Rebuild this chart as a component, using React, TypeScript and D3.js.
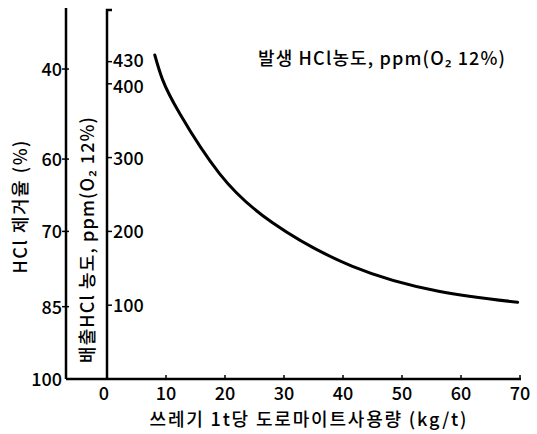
import React, { useEffect, useRef } from 'react';
import * as d3 from 'd3';

// 도로마이트 사용량 (kg/t) vs 배출 HCl 농도 (ppm)
const dolomiteUse = [8.1, 9.4, 12.3, 19.1, 28.0, 41.5, 56.2, 69.6];
const hclPpm = [439, 406, 360, 278, 212, 153, 119, 104];

const xTicks = [0, 10, 20, 30, 40, 50, 60, 70];
const ppmTicks = [100, 200, 300, 400, 430];
// 제거율 눈금과 그에 대응하는 ppm 위치
const removalTicks = [40, 60, 70, 85, 100];
const removalAtPpm = [420, 298, 200, 98, 0];

const FONT = '"Noto Sans CJK KR", "Noto Sans", sans-serif';

export default function App() {
    const ref = useRef<SVGSVGElement>(null);

    useEffect(() => {
        const svg = d3.select(ref.current);
        svg.selectAll('*').remove();

        const x = d3.scaleLinear().domain([0, 70]).range([107, 520]);
        const y = d3.scaleLinear().domain([0, 500]).range([379, 10]);
        const leftAxisX = 66;
        const bottomY = 379;

        const txt = (sel: any, size = 18) =>
            sel.attr('font-family', FONT).attr('font-size', size).attr('font-weight', 500);

        // 축선
        svg.append('line')
            .attr('x1', leftAxisX).attr('x2', leftAxisX)
            .attr('y1', 8).attr('y2', bottomY)
            .attr('stroke', '#000').attr('stroke-width', 2.5);
        svg.append('path')
            .attr('d', `M112,10 H${x(0)} V${bottomY}`)
            .attr('fill', 'none')
            .attr('stroke', '#000').attr('stroke-width', 2.5);
        svg.append('line')
            .attr('x1', leftAxisX).attr('x2', x(70) + 1)
            .attr('y1', bottomY).attr('y2', bottomY)
            .attr('stroke', '#000').attr('stroke-width', 2.5);

        // 아래 눈금
        svg.append('g').selectAll('line')
            .data(xTicks.filter((d) => d > 0))
            .join('line')
            .attr('x1', (d) => x(d)).attr('x2', (d) => x(d))
            .attr('y1', bottomY).attr('y2', bottomY - 4)
            .attr('stroke', '#000').attr('stroke-width', 1.5);
        txt(svg.append('g').selectAll('text')
            .data(xTicks)
            .join('text')
            .attr('x', (d) => x(d) - (d === 0 ? 3 : 0))
            .attr('y', 400)
            .attr('text-anchor', 'middle'))
            .text((d) => d);

        // ppm 눈금 (430 / 400 은 붙어 있어서 살짝 벌림)
        svg.append('g').selectAll('line')
            .data(ppmTicks)
            .join('line')
            .attr('x1', x(0)).attr('x2', x(0) + 5)
            .attr('y1', (d) => y(d)).attr('y2', (d) => y(d))
            .attr('stroke', '#000').attr('stroke-width', 1.5);
        txt(svg.append('g').selectAll('text')
            .data(ppmTicks)
            .join('text')
            .attr('x', x(0) + 6)
            .attr('y', (d) => y(d) + 7 + (d === 430 ? -2 : d === 400 ? 2 : 0)))
            .text((d) => d);

        // 제거율 눈금
        const removalY = d3.scaleLinear().domain(removalTicks).range(removalAtPpm.map((p) => y(p)));
        svg.append('g').selectAll('line')
            .data(removalTicks.filter((d) => d < 100))
            .join('line')
            .attr('x1', leftAxisX - 4).attr('x2', leftAxisX + 3)
            .attr('y1', (d) => removalY(d)).attr('y2', (d) => removalY(d))
            .attr('stroke', '#000').attr('stroke-width', 1.5);
        txt(svg.append('g').selectAll('text')
            .data(removalTicks)
            .join('text')
            .attr('x', leftAxisX - 4)
            .attr('y', (d) => removalY(d) + 7)
            .attr('text-anchor', 'end'))
            .text((d) => d);

        // 곡선
        const pts = dolomiteUse.map((d, i) => [d, hclPpm[i]] as [number, number]);
        const line = d3.line<[number, number]>()
            .x((d) => x(d[0]))
            .y((d) => y(d[1]))
            .curve(d3.curveNatural);
        svg.append('path')
            .datum(pts)
            .attr('fill', 'none')
            .attr('stroke', '#000')
            .attr('stroke-width', 3)
            .attr('stroke-linecap', 'round')
            .attr('d', line);

        // 제목들
        txt(svg.append('text')
            .attr('x', 258).attr('y', 65)
            .attr('textLength', 247).attr('lengthAdjust', 'spacing'))
            .text('발생 HCl농도, ppm(O₂ 12%)');
        txt(svg.append('text')
            .attr('transform', 'translate(27,207) rotate(-90)')
            .attr('text-anchor', 'middle')
            .attr('textLength', 133).attr('lengthAdjust', 'spacing'))
            .text('HCl 제거율 (%)');
        txt(svg.append('text')
            .attr('transform', 'translate(94,240) rotate(-90)')
            .attr('text-anchor', 'middle')
            .attr('textLength', 246).attr('lengthAdjust', 'spacing'))
            .text('배출HCl 농도, ppm(O₂ 12%)');
        txt(svg.append('text')
            .attr('x', 308).attr('y', 426)
            .attr('text-anchor', 'middle')
            .attr('textLength', 317).attr('lengthAdjust', 'spacing'))
            .text('쓰레기 1t당 도로마이트사용량 (kg/t)');
    }, []);

    return (
        <svg ref={ref} width={537} height={434}
            style={{ position: 'absolute', left: 0, top: 0, background: '#fff' }} />
    );
}
